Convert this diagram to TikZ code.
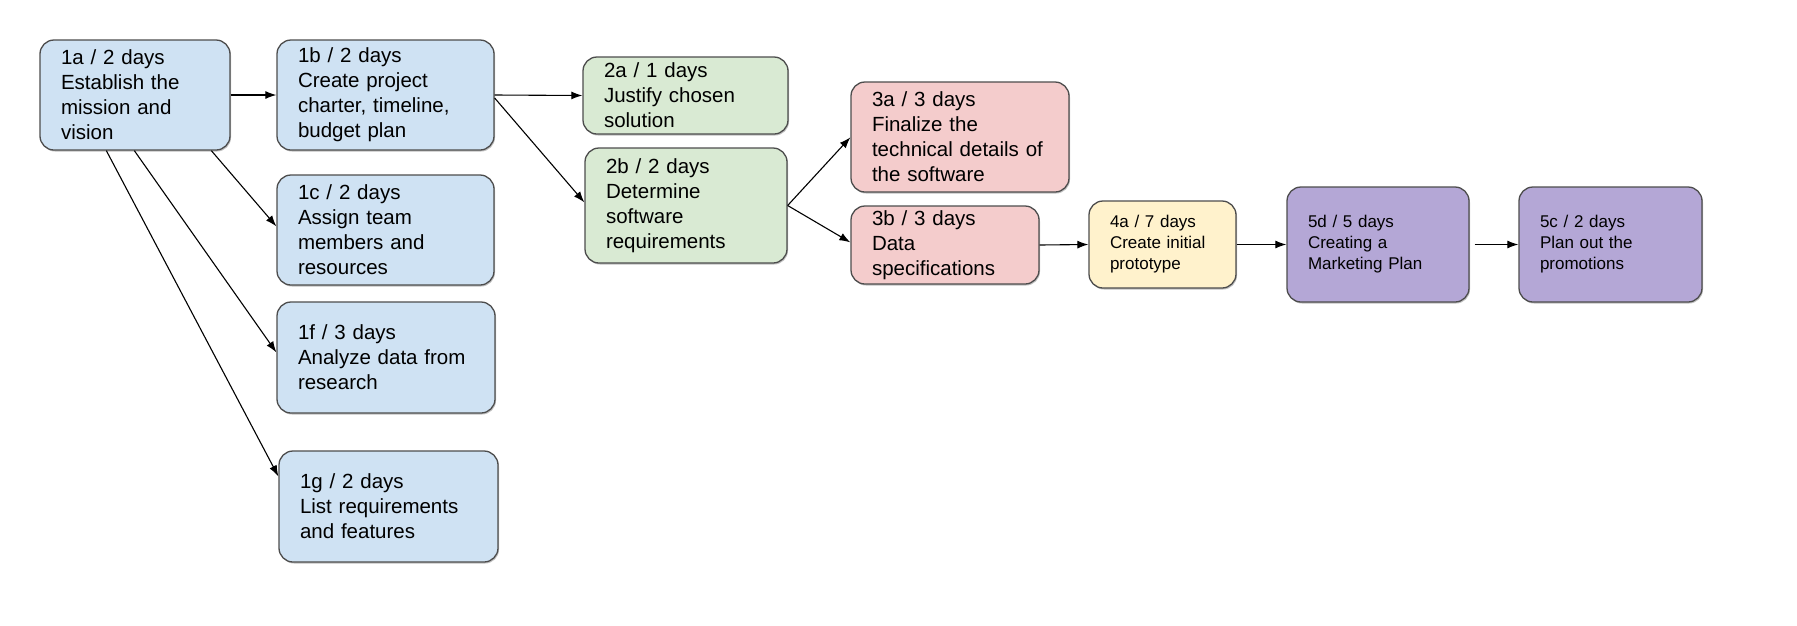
\documentclass[tikz,border=0pt]{standalone}
\usepackage{fontspec}
\setmainfont{Liberation Sans}
\usetikzlibrary{arrows.meta,shadows}
\definecolor{cblue}{HTML}{CFE2F3}
\definecolor{cgreen}{HTML}{D9EAD3}
\definecolor{cred}{HTML}{F4CCCC}
\definecolor{cyellow}{HTML}{FFF2CC}
\definecolor{cpurple}{HTML}{B4A7D6}
\definecolor{cborder}{HTML}{4D4D4D}
\begin{document}
\begin{tikzpicture}[x=1pt,y=-1pt,
  box/.style={draw=cborder, line width=1.3pt, rounded corners=14pt,
    inner xsep=21pt, inner ysep=0pt, align=left,
    font=\fontsize{20.5}{25}\selectfont,
    drop shadow={shadow xshift=1pt, shadow yshift=-1.5pt, opacity=0.25, fill=black}},
  smallbox/.style={box, font=\fontsize{17}{21}\selectfont},
  conn/.style={draw=black, line width=1.1pt, -{Latex[length=11pt,width=8pt]}}
]
\useasboundingbox[fill=white] (0,0) rectangle (1797,625);

% column 1
\node[box, fill=cblue, minimum width=190pt, minimum height=110pt, text width=148pt] (n1a) at (135,95)
  {1a / 2 days\\Establish the\\mission and\\vision};
\node[box, fill=cblue, minimum width=217pt, minimum height=110pt, text width=175pt] (n1b) at (385.5,95)
  {1b / 2 days\\Create project\\charter, timeline,\\budget plan};
\node[box, fill=cblue, minimum width=217pt, minimum height=110pt, text width=175pt] (n1c) at (385.5,230)
  {1c / 2 days\\Assign team\\members and\\resources};
\node[box, fill=cblue, minimum width=218pt, minimum height=111pt, text width=176pt] (n1f) at (386,357.5)
  {1f / 3 days\\Analyze data from\\research};
\node[box, fill=cblue, minimum width=219pt, minimum height=111pt, text width=177pt] (n1g) at (388.5,506.5)
  {1g / 2 days\\List requirements\\and features};

% column 2
\node[box, fill=cgreen, minimum width=205pt, minimum height=77pt, text width=163pt] (n2a) at (685.5,95.5)
  {2a / 1 days\\Justify chosen\\solution};
\node[box, fill=cgreen, minimum width=202pt, minimum height=115pt, text width=160pt] (n2b) at (686,205.5)
  {2b / 2 days\\Determine\\software\\requirements};

% column 3
\node[box, fill=cred, minimum width=218pt, minimum height=110pt, text width=176pt] (n3a) at (960,137)
  {3a / 3 days\\Finalize the\\technical details of\\the software};
\node[box, fill=cred, minimum width=188pt, minimum height=78pt, text width=146pt] (n3b) at (945,245)
  {3b / 3 days\\Data\\specifications};

% column 4 and 5
\node[smallbox, fill=cyellow, minimum width=147pt, minimum height=87pt, text width=105pt] (n4a) at (1162.5,244.5)
  {4a / 7 days\\Create initial\\prototype};
\node[smallbox, fill=cpurple, minimum width=182pt, minimum height=115pt, text width=140pt] (n5d) at (1378,244.5)
  {5d / 5 days\\Creating a\\Marketing Plan};
\node[smallbox, fill=cpurple, minimum width=183pt, minimum height=115pt, text width=141pt] (n5c) at (1610.5,244.5)
  {5c / 2 days\\Plan out the\\promotions};

% connectors
\draw[conn] (n1a.east) -- (n1b.west);
\draw[conn] ([xshift=172pt]n1a.south west) -- ([yshift=-52pt]n1c.north west);
\draw[conn] ([xshift=95pt]n1a.south west) -- ([yshift=-51pt]n1f.north west);
\draw[conn] ([xshift=67pt]n1a.south west) -- ([yshift=-26pt]n1g.north west);
\draw[conn] (n1b.east) -- (n2a.west);
\draw[conn] ([yshift=-3pt]n1b.east) -- ([yshift=-55pt]n2b.north west);
\draw[conn] (n2b.east) -- ([yshift=-56pt]n3a.north west);
\draw[conn] (n2b.east) -- ([yshift=-37pt]n3b.north west);
\draw[conn] (n3b.east) -- (n4a.west);
\draw[conn] (n4a.east) -- (n5d.west);
\draw[conn] ([xshift=5pt]n5d.east) -- (n5c.west);
\end{tikzpicture}
\end{document}
